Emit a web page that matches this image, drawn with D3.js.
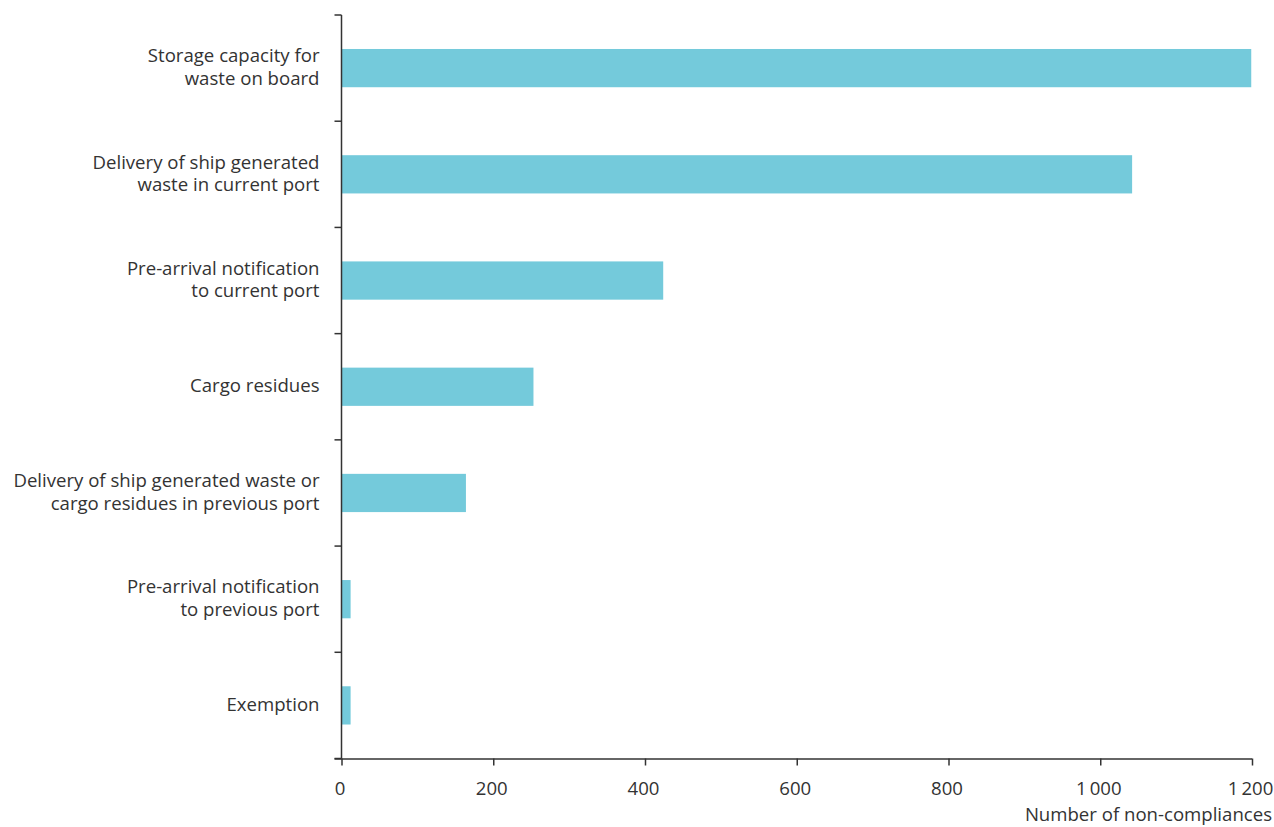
<!DOCTYPE html>
<html><head><meta charset="utf-8">
<script src="https://cdn.jsdelivr.net/npm/d3@7"></script>
<style>body{margin:0;background:#fff;} svg{display:block;font-family:"Open Sans",sans-serif;}</style>
</head><body>
<svg id="chart" width="1274" height="827"></svg>
<script>
const categories = [
  ["Storage capacity for", "waste on board"],
  ["Delivery of ship generated", "waste in current port"],
  ["Pre-arrival notification", "to current port"],
  ["Cargo residues"],
  ["Delivery of ship generated waste or", "cargo residues in previous port"],
  ["Pre-arrival notification", "to previous port"],
  ["Exemption"]
];
const values = [1199, 1042, 424, 253, 164, 12, 12];
const xTicks = [0, 200, 400, 600, 800, 1000, 1200];
const xTickLabels = ["0", "200", "400", "600", "800", "1\u2009000", "1\u2009200"];
const xTitle = "Number of non-compliances";

(function () {
const svg = d3.select("#chart");
const mLeft = 341.5, mRight = 1252, mTop = 15, mBottom = 758.5;
const fs = 18.6;
const keys = categories.map((c, i) => i);
const x = d3.scaleLinear().domain([0, 1200]).range([mLeft, mRight]);
const y = d3.scaleBand().domain(keys).range([mTop, mBottom]).paddingInner(0.64).paddingOuter(0.32);
const step = (mBottom - mTop) / categories.length;

svg.append("g").selectAll("rect").data(values).join("rect")
  .attr("x", x(0))
  .attr("y", (d, i) => y(i))
  .attr("width", d => x(d) - x(0))
  .attr("height", y.bandwidth())
  .attr("fill", "#74cadb");

const axisColor = "#333";
const yg = svg.append("g");
yg.append("line").attr("x1", mLeft).attr("x2", mLeft).attr("y1", mTop).attr("y2", mBottom)
  .attr("stroke", axisColor).attr("stroke-width", 1.5);
d3.range(categories.length + 1).forEach(i => {
  const yy = mTop + i * step;
  yg.append("line").attr("x1", mLeft - 7).attr("x2", mLeft).attr("y1", yy).attr("y2", yy)
    .attr("stroke", axisColor).attr("stroke-width", 1.5);
});
categories.forEach((lines, i) => {
  const cy = y(i) + y.bandwidth() / 2;
  const lh = 22.5;
  const t = yg.append("text").attr("text-anchor", "end").attr("fill", "#333")
    .attr("font-size", fs);
  lines.forEach((ln, j) => {
    t.append("tspan").attr("x", mLeft - 22)
      .attr("y", cy - 1 + (j - (lines.length - 1) / 2) * lh)
      .attr("dy", "0.35em").text(ln);
  });
});

const xAxis = d3.axisBottom(x).tickValues(xTicks).tickSize(7)
  .tickFormat((d, i) => xTickLabels[i]).tickSizeOuter(0);
const xg = svg.append("g").attr("transform", `translate(0,${mBottom})`).call(xAxis);
xg.select(".domain").attr("stroke", axisColor).attr("stroke-width", 1.5)
  .attr("d", `M${mLeft - 7},0.5H${mRight}`);
xg.selectAll(".tick line").attr("stroke", axisColor).attr("stroke-width", 1.5);
xg.selectAll(".tick text").attr("fill", "#333").attr("font-size", fs)
  .attr("font-family", "Open Sans, sans-serif").attr("y", 23.5).attr("dx", -2);

svg.append("text").attr("x", 1272).attr("y", 821).attr("text-anchor", "end")
  .attr("fill", "#333").attr("font-size", fs).text(xTitle);
})();
</script>
</body></html>
